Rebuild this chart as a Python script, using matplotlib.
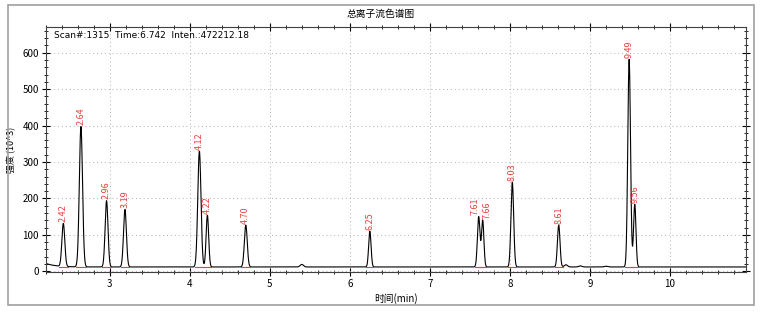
import numpy as np
import matplotlib.pyplot as plt
from matplotlib.patches import Rectangle
from matplotlib.ticker import MultipleLocator

plt.rcParams['font.family'] = ['Noto Sans CJK SC', 'DejaVu Sans']

# peaks: retention time, height (10^3), width (sigma, min)
peak_rt = [2.42, 2.64, 2.96, 3.19, 4.12, 4.22, 4.70, 6.25, 7.61, 7.66, 8.03, 8.61, 9.49, 9.56]
peak_h = [118, 385, 182, 158, 318, 142, 115, 98, 138, 128, 232, 115, 570, 172]
peak_w = [0.018, 0.02, 0.018, 0.018, 0.02, 0.016, 0.018, 0.015, 0.016, 0.015, 0.017, 0.016, 0.017, 0.015]
peak_lbl = ["2.42", "2.64", "2.96", "3.19", "4.12", "4.22", "4.70", "6.25", "7.61", "7.66", "8.03", "8.61", "9.49", "9.56"]
lbl_shift = [0, 0, 0, 0, 0, 0, 0, 0, -0.05, 0.05, 0, 0, 0, 0]
# small bumps without labels
bump_rt = [5.40, 8.70, 8.88, 9.20]
bump_h = [7, 6, 3, 2]

x = np.linspace(2.2, 10.95, 4000)
y = 12 + 10 * np.exp(-(x - 2.2) / 0.12)
for rt, h, w in zip(peak_rt + bump_rt, peak_h + bump_h, peak_w + [0.02] * len(bump_rt)):
    y += h * np.exp(-0.5 * ((x - rt) / w) ** 2)

fig = plt.figure(figsize=(7.62, 3.12), dpi=100)
fig.patches.append(Rectangle((0.011, 0.022), 0.978, 0.962, transform=fig.transFigure,
                             fill=False, edgecolor='#a0a0a0', lw=1.2))
ax = fig.add_axes([0.060, 0.128, 0.919, 0.785])

ax.plot(x, y, color='black', lw=0.8)

for rt, h, w, lbl, dx in zip(peak_rt, peak_h, peak_w, peak_lbl, lbl_shift):
    ax.plot([rt - 3 * w, rt + 3 * w], [12, 12], color='#e8413c', lw=0.8)
    ax.text(rt + dx, h + 16, lbl, color='#e8413c', rotation=90, ha='center', va='bottom', fontsize=6.5)

ax.set_xlim(2.2, 10.95)
ax.set_ylim(-2, 670)
ax.xaxis.set_major_locator(MultipleLocator(1))
ax.xaxis.set_minor_locator(MultipleLocator(0.2))
ax.yaxis.set_major_locator(MultipleLocator(100))
ax.yaxis.set_minor_locator(MultipleLocator(20))
ax.tick_params(which='both', direction='inout', top=True, right=True, labelsize=7, pad=2)
ax.tick_params(which='major', length=6)
ax.tick_params(which='minor', length=3)
ax.grid(True, which='major', linestyle=(0, (1, 3)), color='#b0b0b0', lw=0.7)
for s in ax.spines.values():
    s.set_color('#404040')

ax.text(0.012, 0.985, "Scan#:1315  Time:6.742  Inten.:472212.18", transform=ax.transAxes,
        fontsize=6.5, va='top', ha='left', family='DejaVu Sans')
fig.text(0.5, 0.955, "总离子流色谱图", ha='center', va='center', fontsize=7)
ax.set_xlabel("时间(min)", fontsize=7, labelpad=3)
ax.set_ylabel("强度 (10^3)", fontsize=6.5, labelpad=4)

fig.savefig("out.png", dpi=100)
